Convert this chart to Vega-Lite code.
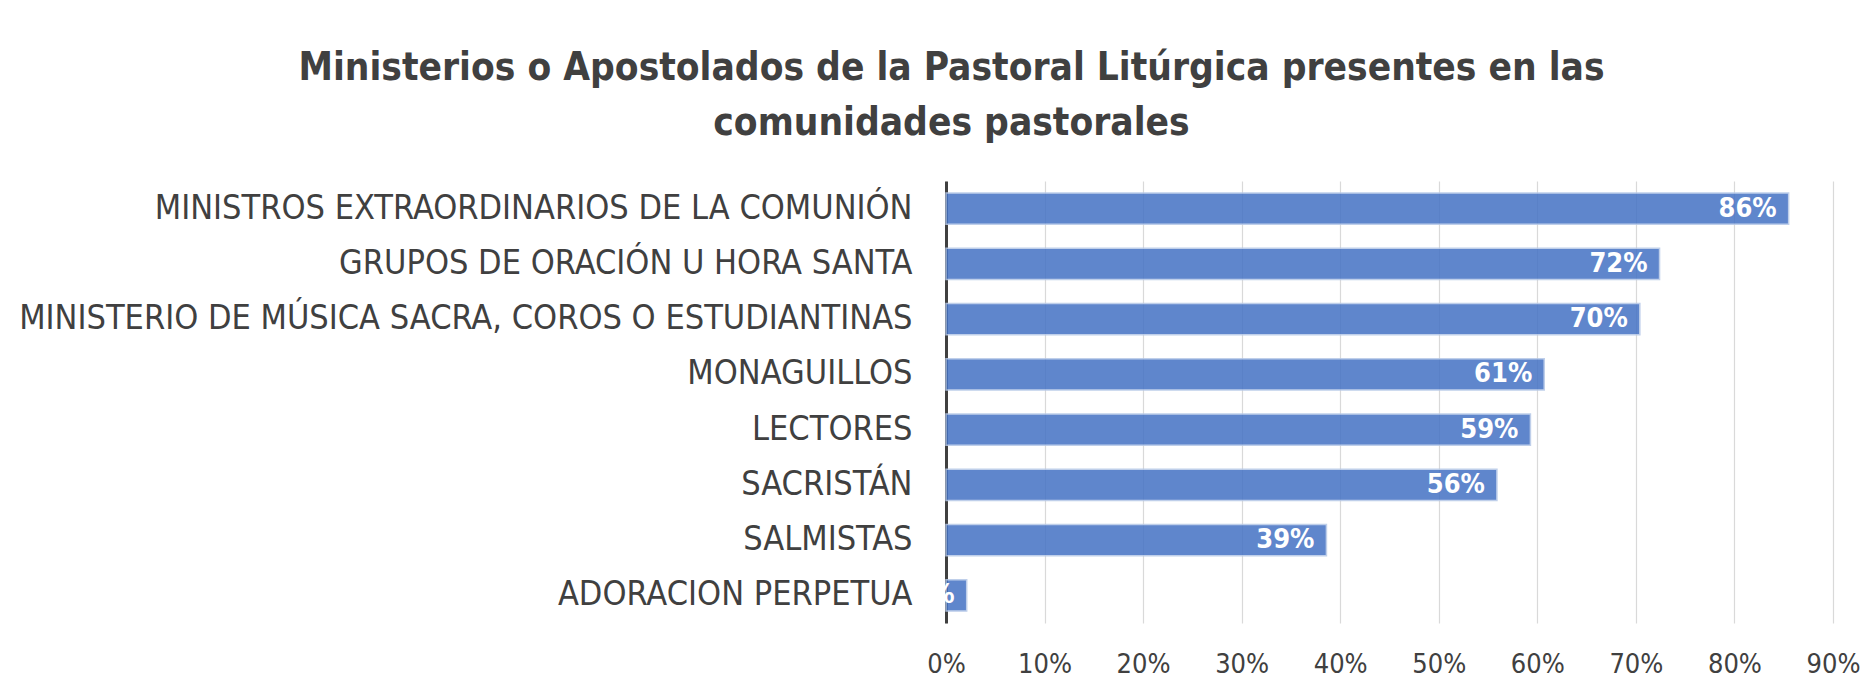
{
  "$schema": "https://vega.github.io/schema/vega-lite/v6.json",
  "width": 887,
  "height": 442,
  "autosize": {"type": "none"},
  "padding": {"left": 946, "top": 181, "right": 37, "bottom": 74},
  "background": "white",
  "title": {
    "text": ["Ministerios o Apostolados de la Pastoral Litúrgica presentes en las", "comunidades pastorales"],
    "font": "DejaVu Sans Condensed, sans-serif",
    "fontSize": 38.5,
    "fontWeight": "bold",
    "color": "#404040",
    "anchor": "middle",
    "dx": -438,
    "offset": 38,
    "lineHeight": 55
  },
  "data": {
    "values": [
      {"ministerio": "MINISTROS EXTRAORDINARIOS DE LA COMUNIÓN", "pct": 0.855, "label": "86%"},
      {"ministerio": "GRUPOS DE ORACIÓN U HORA SANTA", "pct": 0.724, "label": "72%"},
      {"ministerio": "MINISTERIO DE MÚSICA SACRA, COROS O ESTUDIANTINAS", "pct": 0.704, "label": "70%"},
      {"ministerio": "MONAGUILLOS", "pct": 0.607, "label": "61%"},
      {"ministerio": "LECTORES", "pct": 0.593, "label": "59%"},
      {"ministerio": "SACRISTÁN", "pct": 0.559, "label": "56%"},
      {"ministerio": "SALMISTAS", "pct": 0.386, "label": "39%"},
      {"ministerio": "ADORACION PERPETUA", "pct": 0.021, "label": "2%"}
    ]
  },
  "encoding": {
    "y": {
      "field": "ministerio",
      "type": "nominal",
      "sort": null,
      "title": null,
      "scale": {"paddingInner": 0.43, "paddingOuter": 0.215},
      "axis": {
        "labelFont": "DejaVu Sans Condensed, sans-serif",
        "labelFontSize": 34,
        "labelColor": "#404040",
        "labelPadding": 34,
        "labelLimit": 1000,
        "ticks": false,
        "domainColor": "#404040",
        "domainWidth": 3,
        "grid": false
      }
    },
    "x": {
      "field": "pct",
      "type": "quantitative",
      "title": null,
      "scale": {"domain": [0, 0.9], "nice": false},
      "axis": {
        "format": ".0%",
        "values": [0, 0.1, 0.2, 0.3, 0.4, 0.5, 0.6, 0.7, 0.8, 0.9],
        "labelFont": "DejaVu Sans Condensed, sans-serif",
        "labelFontSize": 27,
        "labelColor": "#404040",
        "labelPadding": 28,
        "labelFlush": false,
        "labelOverlap": false,
        "ticks": false,
        "domain": false,
        "grid": true,
        "gridColor": "#d9d9d9",
        "gridWidth": 1.2
      }
    }
  },
  "layer": [
    {
      "mark": {"type": "bar", "color": "#4472C4", "opacity": 0.85, "stroke": "#b4c7e7", "strokeWidth": 1.5}
    },
    {
      "mark": {"type": "text", "align": "right", "baseline": "middle", "dx": -12, "color": "white", "font": "DejaVu Sans Condensed, sans-serif", "fontSize": 27, "fontWeight": "bold"},
      "encoding": {"text": {"field": "label"}}
    }
  ],
  "config": {"view": {"stroke": null}}
}
